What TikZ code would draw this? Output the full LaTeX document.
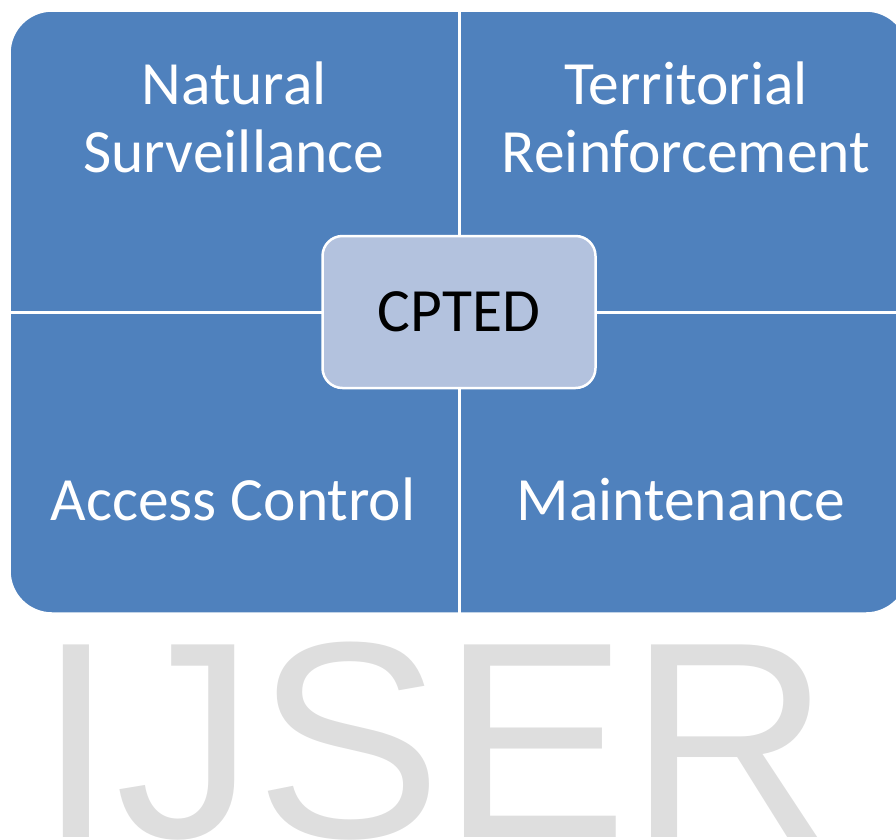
\documentclass[tikz,border=0pt]{standalone}
\usepackage{fontspec}
\setmainfont{Carlito}
\newfontfamily\markfont{Liberation Sans}
\usetikzlibrary{positioning}
\definecolor{quadblue}{HTML}{4F81BD}
\definecolor{hubblue}{HTML}{B3C2DE}
\definecolor{markgray}{HTML}{DEDEDE}
\newcommand{\labelsize}{\fontsize{61.5}{68}\selectfont}

\begin{document}
\begin{tikzpicture}[
        x=1pt, y=-1pt,
        quadtext/.style={text=white, font=\labelsize, align=center, inner sep=0pt, anchor=base},
        hub/.style={draw=white, line width=2.5pt, fill=hubblue, rounded corners=20pt,
                    minimum width=273pt, minimum height=152pt, font=\labelsize, text=black},
        divider/.style={draw=white, line width=3pt},
    ]
        \useasboundingbox (0,0) rectangle (896,839);
        \clip (0,0) rectangle (896,839);

        \node[markgray, font=\markfont\fontsize{280}{300}\selectfont, inner sep=0pt, anchor=base west]
            (mark) at (37,837) {IJSER};

        \node[draw=white, line width=1.5pt, fill=quadblue, rounded corners=42pt,
              minimum width=898pt, minimum height=602pt, inner sep=0pt]
            (frame) at (459,312) {};
        \path[divider]  (frame.north) -- (frame.south)
                        (frame.west)  -- (frame.east);

        \node[quadtext] (surv)  at (234,172) {Natural\\Surveillance};
        \node[quadtext] (terr)  at (686,172) {Territorial\\Reinforcement};
        \node[quadtext] (acc)   at (233,520) {Access Control};
        \node[quadtext] (maint) at (681,520) {Maintenance};

        \node[hub] (cpted) at (frame.center) {CPTED};
\end{tikzpicture}
\end{document}
